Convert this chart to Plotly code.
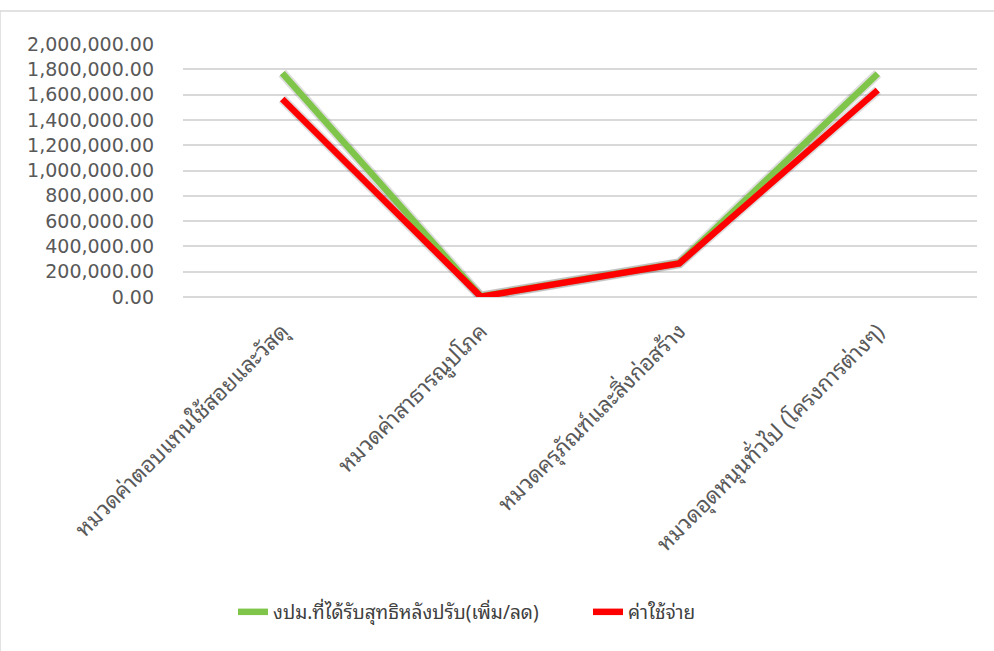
import plotly.graph_objects as go

categories = [
    "หมวดค่าตอบแทนใช้สอยและวัสดุ",
    "หมวดค่าสาธารณูปโภค",
    "หมวดครุภัณฑ์และสิ่งก่อสร้าง",
    "หมวดอุดหนุนทั่วไป (โครงการต่างๆ)",
]
budget_name = "งปม.ที่ได้รับสุทธิหลังปรับ(เพิ่ม/ลด)"
budget_values = [1770000, 5000, 268000, 1765000]
expense_name = "ค่าใช้จ่าย"
expense_values = [1565000, 3000, 265000, 1635000]
y_ticks = [0, 200000, 400000, 600000, 800000, 1000000, 1200000, 1400000,
           1600000, 1800000, 2000000]

thai_font = "Noto Sans Thai Looped, Noto Serif Thai, Tahoma, Noto Sans Thai, DejaVu Sans, sans-serif"
num_font = "DejaVu Sans, Tahoma, sans-serif"
grey_text = "#595959"

fig = go.Figure()

# soft shadow under each line
for vals in (budget_values, expense_values):
    fig.add_trace(go.Scatter(
        x=categories, y=vals, mode="lines", showlegend=False, hoverinfo="skip",
        line=dict(color="rgba(0,0,0,0.13)", width=10),
    ))

fig.add_trace(go.Scatter(
    x=categories, y=budget_values, mode="lines", name=budget_name,
    line=dict(color="#7fc54a", width=6.5),
))
fig.add_trace(go.Scatter(
    x=categories, y=expense_values, mode="lines", name=expense_name,
    line=dict(color="#ff0000", width=6.5),
))

fig.update_layout(
    width=994, height=651,
    margin=dict(l=183, r=17, t=44, b=354),
    paper_bgcolor="white", plot_bgcolor="white",
    font=dict(family=thai_font, size=15, color=grey_text),
    showlegend=True,
    legend=dict(
        orientation="h", x=0.063, xanchor="left", y=-1.245, yanchor="middle",
        font=dict(size=19, color="#404040", family=thai_font),
        entrywidth=310, entrywidthmode="pixels",
        itemwidth=30,
    ),
    xaxis=dict(
        type="category", tickangle=-45, showgrid=False, showline=False,
        ticks="", ticklabelstandoff=16,
        tickfont=dict(size=22, color=grey_text, family=thai_font),
        range=[-0.5, 3.5],
    ),
    yaxis=dict(
        range=[0, 2000000], tickvals=y_ticks, tickformat=",.2f",
        showgrid=True, gridcolor="#d9d9d9", gridwidth=1.5,
        zeroline=True, zerolinecolor="#d9d9d9", zerolinewidth=1.5,
        showline=False, ticks="", ticklabelstandoff=28,
        tickfont=dict(size=19, color=grey_text, family=num_font),
    ),
    shapes=[dict(
        type="rect", xref="paper", yref="paper",
        x0=-183 / 794, x1=1.2, y0=-2.0, y1=(297 - 11) / 253,
        line=dict(color="#d9d9d9", width=1.5), fillcolor="rgba(0,0,0,0)",
        layer="below",
    )],
)

fig.write_html("out.html")
